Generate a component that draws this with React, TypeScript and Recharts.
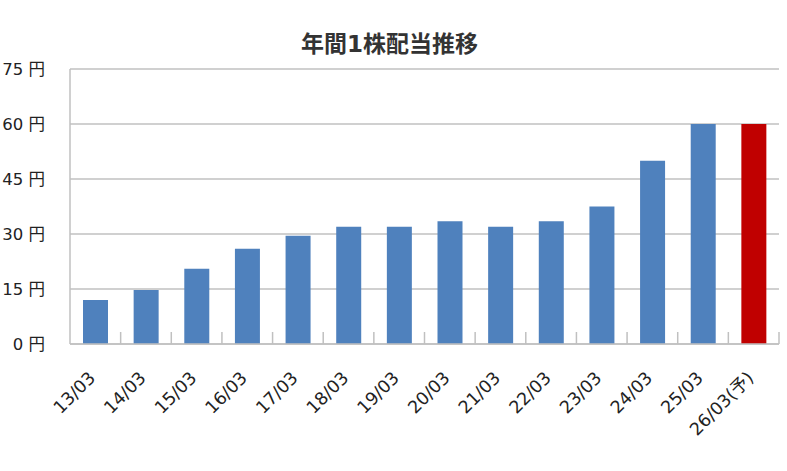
import React from 'react';
import { BarChart, Bar, XAxis, YAxis, CartesianGrid, Cell } from 'recharts';

const periods = [
  '13/03', '14/03', '15/03', '16/03', '17/03', '18/03', '19/03',
  '20/03', '21/03', '22/03', '23/03', '24/03', '25/03', '26/03(予)',
];
const dividends = [12, 14.75, 20.5, 26, 29.5, 32, 32, 33.5, 32, 33.5, 37.5, 50, 60, 60];
const forecast = [false, false, false, false, false, false, false, false, false, false, false, false, false, true];
const yTicks = [0, 15, 30, 45, 60, 75];

const data = periods.map((period, i) => ({ period, value: dividends[i], forecast: forecast[i] }));

const W = 787;
const H = 471;
const PLOT_LEFT = 70;
const PLOT_RIGHT = 8;
const FONT = "'DejaVu Sans', 'Noto Sans CJK JP', sans-serif";
const AXIS_COLOR = '#c0c0c0';

const step = (W - PLOT_LEFT - PLOT_RIGHT) / periods.length;

const XTick = (props: any) => {
  const { x, y, payload } = props;
  const ax = x + 1;
  const ay = y + 35;
  return (
    <g>
      <line x1={x + step / 2} x2={x + step / 2} y1={y} y2={y - 12} stroke={AXIS_COLOR} strokeWidth={1.5} />
      <text
        x={ax}
        y={ay}
        textAnchor="end"
        fill="#222"
        fontSize={17.5}
        fontFamily={FONT}
        transform={`rotate(-45, ${ax}, ${ay})`}
      >
        {payload.value}
      </text>
    </g>
  );
};

const App: React.FC = () => {
  return (
    <div style={{ position: 'absolute', left: 0, top: 0, width: W, height: H, background: '#fff' }}>
      <div
        style={{
          position: 'absolute',
          left: 0,
          width: W - 8,
          top: 25,
          textAlign: 'center',
          fontFamily: FONT,
          fontWeight: 'bold',
          fontSize: 23,
          color: '#333',
        }}
      >
        年間1株配当推移
      </div>
      <BarChart
        width={W}
        height={H}
        data={data}
        margin={{ top: 69, right: PLOT_RIGHT, bottom: 0, left: 0 }}
        barSize={25}
      >
        <CartesianGrid vertical={false} stroke={AXIS_COLOR} strokeWidth={1.5} />
        <XAxis
          dataKey="period"
          interval={0}
          axisLine={{ stroke: AXIS_COLOR, strokeWidth: 1.5 }}
          tickLine={false}
          tickSize={0}
          tickMargin={0}
          tick={<XTick />}
          height={127}
        />
        <YAxis
          domain={[0, 75]}
          ticks={yTicks}
          width={PLOT_LEFT}
          axisLine={{ stroke: AXIS_COLOR, strokeWidth: 1.5 }}
          tickLine={false}
          tickSize={0}
          tickMargin={25}
          tickFormatter={(v: number) => `${v} 円`}
          tick={{ fill: '#222', fontSize: 16.5, fontFamily: FONT }}
        />
        <Bar dataKey="value" isAnimationActive={false}>
          {data.map((d) => (
            <Cell key={d.period} fill={d.forecast ? '#c00000' : '#4f81bd'} />
          ))}
        </Bar>
      </BarChart>
    </div>
  );
};

export default App;
